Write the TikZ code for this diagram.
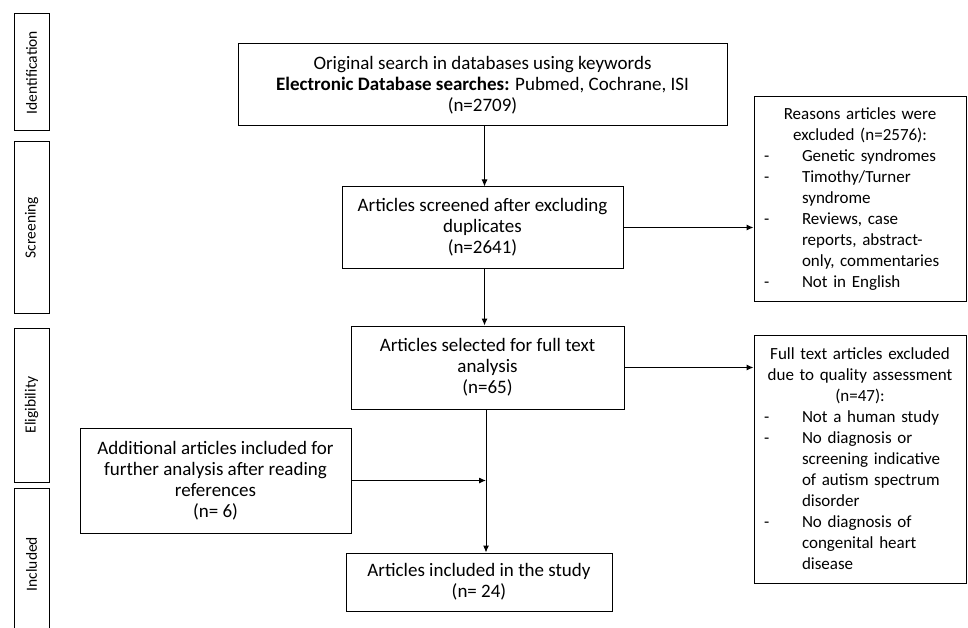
\documentclass[tikz,border=0pt]{standalone}
\usepackage{fontspec}
\setmainfont{Carlito}
\usetikzlibrary{arrows.meta}
\newcommand{\exitem}[1]{\par\hangindent=42pt\hangafter=1\noindent\makebox[42pt][l]{\hspace{4pt}-}#1\par}
\begin{document}
\begin{tikzpicture}[>={Latex[length=7pt,width=6pt]}, x=1pt, y=-1pt,
    box/.style={draw, line width=1pt, align=center, inner sep=0pt,
        font=\fontsize{19}{21}\selectfont},
    exbox/.style={draw, line width=1pt, align=left, inner xsep=6pt, inner ysep=0pt,
        text width=200pt, minimum width=212pt, font=\fontsize{17}{21}\selectfont},
    stage/.style={draw, line width=1pt, rotate=90, inner sep=0pt, minimum height=35pt,
        font=\fontsize{15.5}{18}\selectfont},
    conn/.style={->, line width=1pt}]
\useasboundingbox (0,0) rectangle (968,628);

\foreach \name/\y/\len in {Identification/72.5/117, Screening/227.5/171, Eligibility/405/154, Included/564/152}
{
    \node[stage, minimum width=\len] (\name) at (31.5,\y) {\name};
}

\node[box, minimum width=489, minimum height=82] (search) at (482.5,85)
    {Original search in databases using keywords\\
     \textbf{Electronic Database searches:} Pubmed, Cochrane, ISI\\ (n=2709)};
\node[box, minimum width=281, minimum height=81] (screen) at (482.5,227.5)
    {Articles screened after excluding\\ duplicates\\ (n=2641)};
\node[box, minimum width=273, minimum height=83] (full) at (487.5,367.5)
    {Articles selected for full text\\ analysis\\ (n=65)};
\node[box, minimum width=271, minimum height=105] (extra) at (215.5,480.5)
    {Additional articles included for\\ further analysis after reading\\ references\\ (n= 6)};
\node[box, minimum width=266, minimum height=58] (incl) at (479,582)
    {Articles included in the study\\ (n= 24)};

\node[exbox, minimum height=204] (exA) at (860,199)
    {{\centering Reasons articles were\\ excluded (n=2576):\par}
     \exitem{Genetic syndromes}
     \exitem{Timothy/Turner\newline syndrome}
     \exitem{Reviews, case\newline reports, abstract-\newline only, commentaries}
     \exitem{Not in English}};
\node[exbox, minimum height=248] (exB) at (860,459)
    {{\centering Full text articles excluded\\ due to quality assessment\\ (n=47):\par}
     \exitem{Not a human study}
     \exitem{No diagnosis or\newline screening indicative\newline of autism spectrum\newline disorder}
     \exitem{No diagnosis of\newline congenital heart\newline disease}};

\draw[conn] ([xshift=2pt]search.south) -- ([xshift=2pt]search.south |- screen.north);
\draw[conn] ([xshift=2pt]screen.south) -- ([xshift=2pt]screen.south |- full.north);
\draw[conn] ([xshift=-1.5pt]full.south) -- ([xshift=-1.5pt]full.south |- incl.north);
\draw[conn] (screen.east) -- (screen.east -| exA.west);
\draw[conn] (full.east) -- (full.east -| exB.west);
\draw[conn] (extra.east) -- ([xshift=-1.5pt]extra.east -| full.south);

\end{tikzpicture}
\end{document}
